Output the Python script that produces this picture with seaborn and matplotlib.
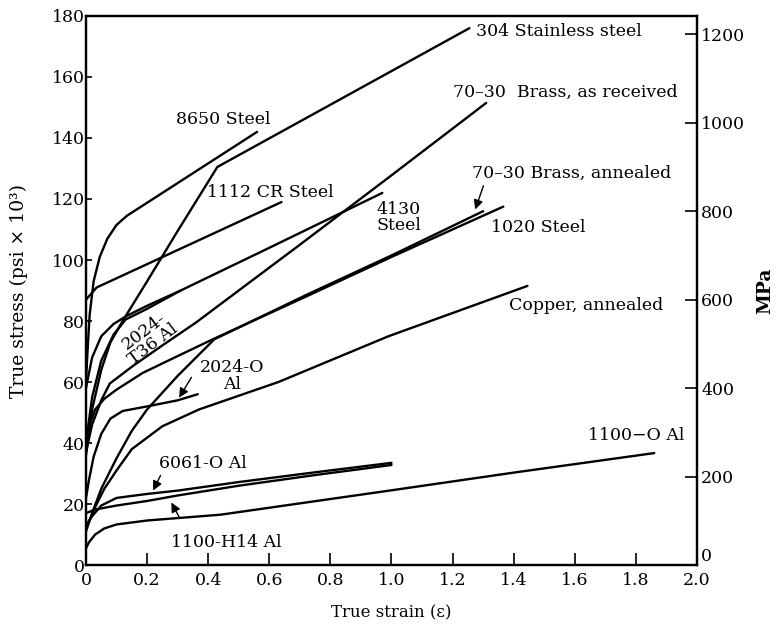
import matplotlib
matplotlib.use("Agg")
import matplotlib.pyplot as plt
import seaborn as sns
import pandas as pd

##### DATA (true strain, true stress in ksi) #####
strain_8650 = [0, 0.005, 0.012, 0.025, 0.045, 0.07, 0.1, 0.134, 0.56]
stress_8650 = [60, 70, 82, 93, 101, 107, 111.5, 114.5, 142]

strain_304 = [0, 0.02, 0.05, 0.08, 0.12, 0.2, 0.3, 0.43, 1.255]
stress_304 = [36, 51, 64, 73, 80, 93, 109.5, 130.5, 176]

strain_brass_rec = [0, 0.02, 0.05, 0.078, 0.15, 0.25, 0.36, 0.7, 0.99, 1.31]
stress_brass_rec = [37, 46, 54, 59.5, 65, 72, 79.5, 105, 127, 151.5]

strain_1112 = [0, 0.035, 0.64]
stress_1112 = [87, 91, 119]

strain_4130 = [0, 0.02, 0.05, 0.09, 0.13, 0.2, 0.31, 0.6, 0.97]
stress_4130 = [40, 55, 67, 75.5, 80.5, 84, 90, 104, 122]

strain_t36 = [0, 0.02, 0.05, 0.09, 0.13, 0.2, 0.31]
stress_t36 = [58, 68, 75, 79, 81.5, 85, 90]

strain_1020 = [0, 0.01, 0.03, 0.06, 0.1, 0.186, 0.3, 0.415, 0.72, 1.0, 1.366]
stress_1020 = [40, 45.5, 51, 54.5, 57.5, 63, 68.5, 74, 88, 101, 117.5]

strain_brass_ann = [0, 0.02, 0.05, 0.1, 0.15, 0.2, 0.3, 0.42, 0.72, 1.0, 1.30]
stress_brass_ann = [11, 17, 25, 35, 44, 51, 62, 74, 88.5, 101.5, 116]

strain_copper = [0, 0.03, 0.06, 0.1, 0.15, 0.25, 0.37, 0.63, 0.99, 1.445]
stress_copper = [12, 19, 25, 31, 38, 45.5, 51, 60, 75, 91.5]

strain_2024o = [0, 0.01, 0.025, 0.05, 0.08, 0.12, 0.2, 0.3, 0.366]
stress_2024o = [22, 28, 35.5, 43, 48, 50.5, 52, 54, 56]

strain_6061 = [0, 0.02, 0.05, 0.1, 0.2, 0.3, 0.5, 0.75, 1.0]
stress_6061 = [13, 16, 19.5, 22, 23.3, 24.4, 27.2, 30.4, 33.5]

strain_h14 = [0, 0.03, 0.1, 0.2, 0.3, 0.5, 0.75, 1.0]
stress_h14 = [17, 18.2, 19.5, 21, 22.8, 26, 29.5, 32.8]

strain_1100o = [0, 0.01, 0.03, 0.06, 0.1, 0.2, 0.44, 1.0, 1.4, 1.86]
stress_1100o = [5.5, 7.5, 10, 12, 13.3, 14.6, 16.5, 24.5, 30.3, 36.7]

curves = [
    (strain_8650, stress_8650), (strain_304, stress_304),
    (strain_brass_rec, stress_brass_rec), (strain_1112, stress_1112),
    (strain_4130, stress_4130), (strain_t36, stress_t36),
    (strain_1020, stress_1020), (strain_brass_ann, stress_brass_ann),
    (strain_copper, stress_copper), (strain_2024o, stress_2024o),
    (strain_6061, stress_6061), (strain_h14, stress_h14),
    (strain_1100o, stress_1100o),
]

x_ticks = [0, 0.2, 0.4, 0.6, 0.8, 1.0, 1.2, 1.4, 1.6, 1.8, 2.0]
x_tick_labels = ["0", "0.2", "0.4", "0.6", "0.8", "1.0", "1.2", "1.4", "1.6", "1.8", "2.0"]
y_ticks = [0, 20, 40, 60, 80, 100, 120, 140, 160, 180]
mpa_ticks = [0, 200, 400, 600, 800, 1000, 1200]
KSI_TO_MPA = 6.895

sns.set_style("ticks")
plt.rcParams["font.family"] = ["DejaVu Serif"]
plt.rcParams["mathtext.fontset"] = "dejavuserif"
for key in ["text.color", "axes.labelcolor", "xtick.color", "ytick.color", "axes.edgecolor"]:
    plt.rcParams[key] = "black"

fig = plt.figure(figsize=(7.76, 6.29), dpi=100)
ax = fig.add_axes([0.1108, 0.1017, 0.7874, 0.8729])

for xs, ys in curves:
    df = pd.DataFrame({"strain": xs, "stress": ys})
    sns.lineplot(data=df, x="strain", y="stress", color="black", linewidth=1.7,
                 sort=False, estimator=None, ax=ax)

ax.set_xlim(0, 2.0)
ax.set_ylim(0, 180)
ax.set_xticks(x_ticks)
ax.set_xticklabels(x_tick_labels)
ax.set_yticks(y_ticks)
ax.tick_params(axis="both", direction="in", labelsize=12.5, width=1.2, colors="black")
ax.tick_params(axis="x", length=9, pad=5)
ax.tick_params(axis="y", length=4, pad=1)
for s in ax.spines.values():
    s.set_linewidth(1.6)
    s.set_color("black")
ax.set_xlabel("True strain (ε)", fontsize=12, labelpad=11)
ax.set_ylabel("True stress (psi × 10³)", fontsize=13.5, labelpad=17)

ax2 = ax.twinx()
ax2.set_ylim(0, 180 * KSI_TO_MPA)
ax2.set_yticks(mpa_ticks)
ax2.tick_params(axis="y", direction="in", length=9, width=1.2, labelsize=12.5, pad=3,
                colors="black")
ax2.get_yticklabels()[0].set_verticalalignment("bottom")
ax2.set_ylabel("MPa", fontsize=13.5, fontweight="bold", labelpad=8)
for s in ax2.spines.values():
    s.set_linewidth(1.6)
    s.set_color("black")

fs = 12.5
ax.text(1.278, 175, "304 Stainless steel", fontsize=fs, va="center", ha="left")
ax.text(0.294, 146, "8650 Steel", fontsize=fs, va="center", ha="left")
ax.text(1.2, 155, "70–30  Brass, as received", fontsize=fs, va="center", ha="left")
ax.text(0.395, 122, "1112 CR Steel", fontsize=fs, va="center", ha="left")
ax.text(0.95, 114, "4130\nSteel", fontsize=fs, va="center", ha="left", linespacing=0.95)
ax.text(1.262, 128.5, "70–30 Brass, annealed", fontsize=fs, va="center", ha="left")
ax.text(1.327, 110.5, "1020 Steel", fontsize=fs, va="center", ha="left")
ax.text(1.386, 85, "Copper, annealed", fontsize=fs, va="center", ha="left")
ax.text(0.205, 74.5, "2024-\nT36 Al", fontsize=fs, va="center", ha="center",
        rotation=37, linespacing=0.95, rotation_mode="anchor")
ax.text(0.477, 62, "2024-O\nAl", fontsize=fs, va="center", ha="center", linespacing=0.95)
ax.text(0.383, 33.4, "6061-O Al", fontsize=fs, va="center", ha="center")
ax.text(0.46, 7.5, "1100-H14 Al", fontsize=fs, va="center", ha="center")
ax.text(1.80, 42.6, "1100−O Al", fontsize=fs, va="center", ha="center")

arrow = dict(arrowstyle="-|>", color="black", lw=1.0, mutation_scale=14)
ax.annotate("", xy=(1.271, 115.7), xytext=(1.304, 125.2), arrowprops=arrow)
ax.annotate("", xy=(0.30, 54.1), xytext=(0.35, 62.3), arrowprops=arrow)
ax.annotate("", xy=(0.216, 23.6), xytext=(0.248, 30.2), arrowprops=arrow)
ax.annotate("", xy=(0.275, 21.3), xytext=(0.31, 14.8), arrowprops=arrow)

fig.savefig("out.png", dpi=100)
